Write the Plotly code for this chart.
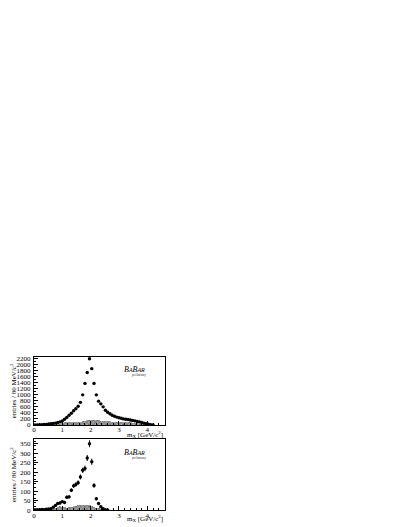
import plotly.graph_objects as go

# bin centres, 80 MeV bins
mx_top = [round(0.04 + 0.08 * i, 2) for i in range(53)]
entries_top = [0, 2, 5, 10, 15, 20, 30, 40, 50, 60, 80, 100, 130, 190, 250, 320,
               390, 470, 540, 620, 750, 1000, 1380, 1740, 2200, 1870, 1380, 1000,
               790, 700, 600, 490, 420, 370, 320, 290, 260, 240, 220, 200, 190,
               180, 165, 150, 135, 115, 100, 80, 60, 40, 25, 10, 3]
bkg_top = [0, 0, 0, 0, 0, 0, 0, 0, 0, 0, 20, 60, 90, 110, 110, 100, 95, 95, 100,
           110, 120, 135, 150, 165, 175, 185, 185, 180, 170, 160, 150, 140, 135,
           130, 125, 120, 120, 115, 115, 110, 105, 100, 95, 90, 80, 70, 60, 50,
           40, 30, 20, 10, 3]

mx_bot = [round(0.04 + 0.08 * i, 2) for i in range(33)]
entries_bot = [2, 3, 2, 4, 3, 5, 6, 8, 15, 25, 35, 38, 45, 40, 68, 70, 105, 128,
               135, 145, 175, 210, 220, 275, 350, 255, 130, 60, 35, 18, 8, 3, 1]
err_bot = [2, 2, 2, 2, 2, 3, 3, 3, 4, 5, 6, 7, 7, 7, 9, 9, 10, 11, 12, 12, 13,
           14, 15, 16, 18, 16, 12, 8, 6, 5, 3, 2, 1]
bkg_bot = [0, 0, 0, 0, 0, 0, 0, 3, 8, 15, 20, 22, 20, 18, 15, 18, 20, 22, 25, 28,
           30, 30, 28, 26, 28, 25, 20, 15, 10, 5, 2, 0, 0]

x_ticks = [0, 1, 2, 3, 4]
y_ticks_top = list(range(0, 2201, 200))
y_ticks_bot = list(range(0, 351, 50))

SERIF = "Liberation Serif"

fig = go.Figure()

for (xs, bkg, ys, err, xa, ya) in [
    (mx_top, bkg_top, entries_top, None, "x", "y"),
    (mx_bot, bkg_bot, entries_bot, err_bot, "x2", "y2"),
]:
    fig.add_trace(go.Bar(
        x=xs, y=bkg, width=0.08, xaxis=xa, yaxis=ya,
        marker=dict(color="#a0a0a0", line_width=0,
                    pattern=dict(shape="x", fgcolor="#303030", size=3, solidity=0.45)),
        showlegend=False,
    ))
    fig.add_trace(go.Scatter(
        x=xs, y=ys, mode="markers", xaxis=xa, yaxis=ya,
        marker=dict(color="black", size=3.4, symbol="circle"),
        error_y=dict(type="data", array=err, color="black", thickness=1, width=0,
                     visible=err is not None),
        showlegend=False,
    ))

axis_common = dict(
    showline=True, linecolor="black", linewidth=1, mirror=True,
    ticks="inside", ticklen=4, tickcolor="black", showgrid=False, zeroline=False,
    tickfont=dict(family=SERIF, size=7, color="black"),
    minor=dict(ticks="inside", ticklen=2, tickcolor="black", nticks=5),
)
x_common = dict(range=[0, 4.63], tickvals=x_ticks, ticklabelstandoff=-2, **axis_common)
y_common = dict(ticklabelstandoff=1, **axis_common)

# page body adds an 8px margin, so the figure is laid out in its own frame
fig.update_layout(
    width=399, height=519,
    margin=dict(l=0, r=0, t=0, b=0),
    paper_bgcolor="white", plot_bgcolor="white",
    barmode="overlay", bargap=0,
    xaxis=dict(domain=[0.0602, 0.391], anchor="y", **x_common),
    yaxis=dict(domain=[0.1908, 0.3237], range=[0, 2270], tickvals=y_ticks_top,
               anchor="x", **y_common),
    xaxis2=dict(domain=[0.0602, 0.391], anchor="y2", **x_common),
    yaxis2=dict(domain=[0.0250, 0.1638], range=[0, 376], tickvals=y_ticks_bot,
                anchor="x2", **y_common),
)

babar = ("<i>B<span style='font-size:6px'>A</span>B"
         "<span style='font-size:6px'>AR</span></i>")
for suffix, title_y in [("", -0.145), ("2", -0.12)]:
    xr = "x" + suffix + " domain"
    yr = "y" + suffix + " domain"
    fig.add_annotation(x=0.86, y=0.9, xref=xr, yref=yr, text=babar,
                       showarrow=False, font=dict(family=SERIF, size=8, color="black"))
    fig.add_annotation(x=0.87, y=0.79, xref=xr, yref=yr, text="preliminary",
                       showarrow=False, font=dict(family=SERIF, size=3, color="#333333"))
    fig.add_annotation(x=1.0, y=title_y, xref=xr, yref=yr, xanchor="right",
                       yanchor="middle",
                       text="m<sub>X</sub> [GeV/c<sup>2</sup>]", showarrow=False,
                       font=dict(family=SERIF, size=7, color="black"))
    fig.add_annotation(x=-0.155, y=0.5, xref=xr, yref=yr, textangle=-90,
                       xanchor="center", yanchor="middle",
                       text="entries / 80 MeV/c<sup>2</sup>", showarrow=False,
                       font=dict(family=SERIF, size=7, color="black"))

fig.write_html("out.html")
